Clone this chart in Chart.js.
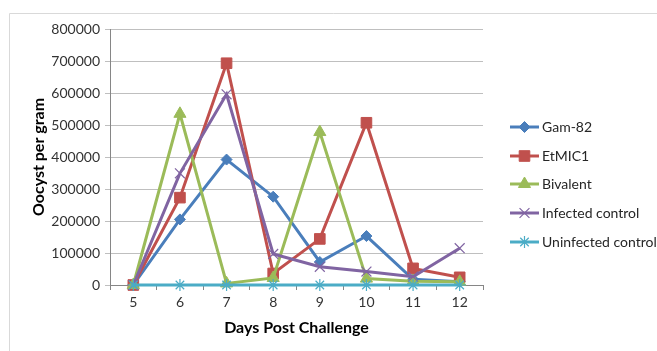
<!DOCTYPE html>
<html>
<head>
<meta charset="utf-8">
<script src="https://cdn.jsdelivr.net/npm/chart.js@4.4.1/dist/chart.umd.min.js"></script>
<style>
  html, body { margin: 0; padding: 0; background: #ffffff; }
  #wrap { width: 657px; height: 351px; position: relative; }
</style>
</head>
<body>
<div id="wrap"><canvas id="grafico" width="657" height="351"></canvas></div>
<script>
// dados
const dias = ['5', '6', '7', '8', '9', '10', '11', '12'];
const gam82 = [0, 205000, 392000, 276000, 72000, 153000, 18000, 10000];
const etmic1 = [0, 273000, 693000, 36000, 144000, 507000, 52000, 24000];
const bivalente = [0, 535000, 5000, 22000, 478000, 20000, 12000, 10000];
const infectado = [0, 349000, 596000, 97000, 57000, 42000, 26000, 115000];
const naoInfectado = [0, 0, 0, 0, 0, 0, 0, 0];
const nomes = ['Gam-82', 'EtMIC1', 'Bivalent', 'Infected control', 'Uninfected control'];

const cores = ['#4a7ebb', '#c0504d', '#9bbb59', '#8064a2', '#4bacc6'];
const estilos = ['rectRot', 'rect', 'triangle', 'crossRot', 'star'];
const raios = [5.5, 7.5, 7, 7, 6];
const bordas = [1, 1, 1, 1.2, 1.2];

const fonte = 'Lato, "Open Sans", sans-serif';

function montarSerie(i, dados) {
  return {
    label: nomes[i],
    data: dados,
    borderColor: cores[i],
    backgroundColor: cores[i],
    pointBackgroundColor: cores[i],
    pointBorderColor: cores[i],
    pointStyle: estilos[i],
    pointRadius: raios[i],
    pointBorderWidth: bordas[i],
    borderWidth: 3,
    tension: 0,
    clip: false,
    order: 5 - i
  };
}

// moldura e legenda desenhadas à mão, estilo Excel
const moldura = {
  id: 'moldura',
  beforeDraw(chart) {
    const ctx = chart.ctx;
    ctx.save();
    ctx.strokeStyle = '#d9d9d9';
    ctx.lineWidth = 1;
    ctx.beginPath();
    ctx.moveTo(9.5, 351);
    ctx.lineTo(9.5, 13.5);
    ctx.lineTo(657, 13.5);
    ctx.stroke();
    ctx.restore();
  },
  afterDraw(chart) {
    const ctx = chart.ctx;
    const ys = [127, 156, 184, 213, 242];
    ctx.save();
    chart.data.datasets.forEach((ds, i) => {
      const y = ys[i];
      ctx.strokeStyle = ds.borderColor;
      ctx.lineWidth = 3;
      ctx.beginPath();
      ctx.moveTo(510, y);
      ctx.lineTo(539, y);
      ctx.stroke();
      ctx.fillStyle = ds.pointBackgroundColor;
      ctx.strokeStyle = ds.pointBorderColor;
      ctx.lineWidth = ds.pointBorderWidth;
      Chart.helpers.drawPoint(ctx, {
        pointStyle: ds.pointStyle,
        radius: ds.pointRadius,
        rotation: 0,
        borderWidth: ds.pointBorderWidth
      }, 524.5, y);
      ctx.fillStyle = '#262626';
      ctx.font = '14px ' + fonte;
      ctx.textBaseline = 'middle';
      ctx.textAlign = 'left';
      ctx.fillText(ds.label, 542, y);
    });
    ctx.restore();
  }
};

new Chart(document.getElementById('grafico'), {
  type: 'line',
  data: {
    labels: dias,
    datasets: [
      montarSerie(0, gam82),
      montarSerie(1, etmic1),
      montarSerie(2, bivalente),
      montarSerie(3, infectado),
      montarSerie(4, naoInfectado)
    ]
  },
  options: {
    responsive: false,
    animation: false,
    layout: { padding: { left: 0, top: 29, right: 174, bottom: 10 } },
    plugins: {
      legend: { display: false },
      tooltip: { enabled: false }
    },
    scales: {
      x: {
        offset: true,
        afterFit(scale) { scale.height = 56; },
        grid: { display: true, offset: true, drawOnChartArea: false, tickLength: 5, color: '#868686' },
        border: { color: '#868686' },
        ticks: { color: '#333333', font: { family: fonte, size: 14 }, padding: 4 },
        title: {
          display: true,
          text: 'Days Post Challenge',
          color: '#000000',
          font: { family: fonte, size: 16, weight: 'bold' },
          padding: { top: 4, bottom: 4 }
        }
      },
      y: {
        min: 0,
        max: 800000,
        afterFit(scale) { scale.width = 110; },
        grid: { color: '#bfbfbf', tickLength: 5 },
        border: { color: '#868686' },
        ticks: {
          stepSize: 100000,
          color: '#333333',
          font: { family: fonte, size: 14 },
          padding: 5,
          callback: v => String(v)
        },
        title: {
          display: true,
          text: 'Oocyst per gram',
          color: '#000000',
          font: { family: fonte, size: 16, weight: 'bold' },
          padding: { top: 29, bottom: 0 }
        }
      }
    }
  },
  plugins: [moldura]
});
</script>
</body>
</html>
